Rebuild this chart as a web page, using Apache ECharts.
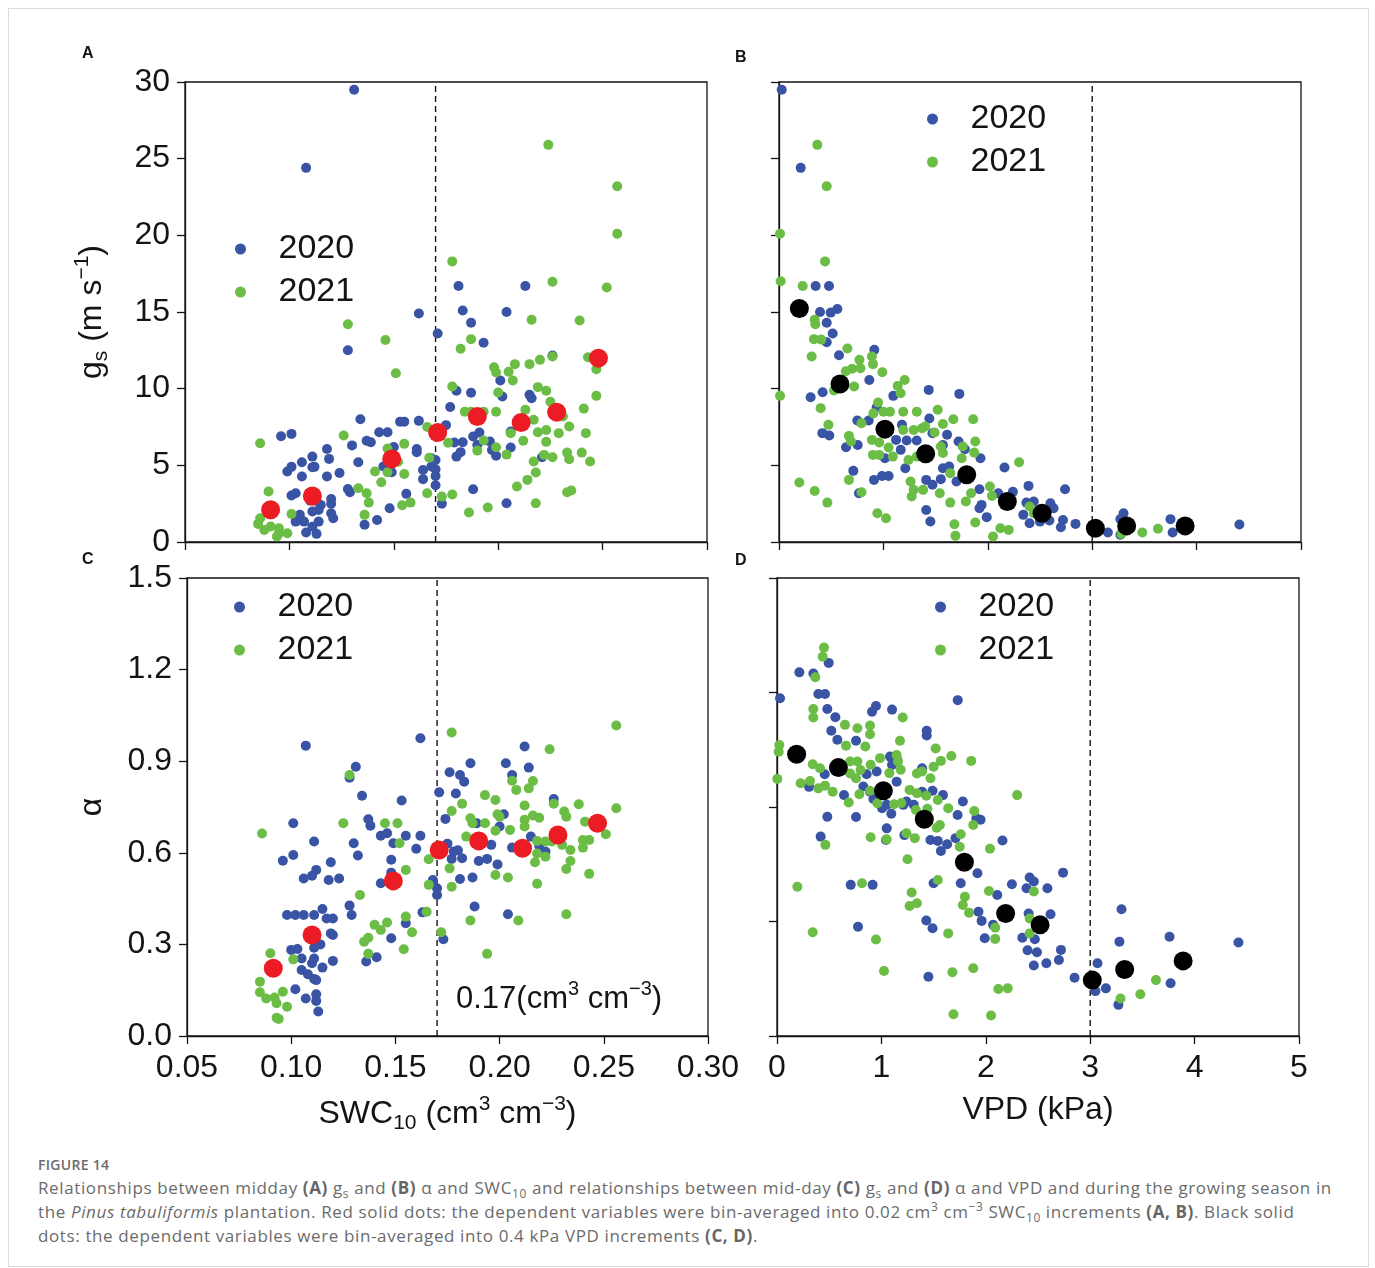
<!DOCTYPE html>
<html>
<head>
<meta charset="utf-8">
<script src="https://cdn.jsdelivr.net/npm/echarts@6/dist/echarts.min.js"></script>
<style>
html,body{margin:0;padding:0;background:#fff;}
#wrap{position:relative;width:1375px;height:1268px;overflow:hidden;}
#frame{position:absolute;left:8px;top:8px;width:1361px;height:1259px;border:1px solid #dcdcdc;box-sizing:border-box;}
#chart{position:absolute;left:0;top:0;width:1375px;height:1150px;}
#cap{position:absolute;left:38px;top:1156px;font-family:'Open Sans','Noto Sans',sans-serif;color:#6b6b6b;}
#cap .fig{font-size:14px;font-weight:600;line-height:18px;height:20px;letter-spacing:0.3px;color:#6b6b6b;}
#cap .ln{font-size:17px;line-height:24px;height:24px;white-space:nowrap;letter-spacing:0.62px;}
#cap b{font-weight:700;color:#666;}
#cap sub,#cap sup{font-size:0.7em;line-height:0;}
</style>
</head>
<body>
<div id="wrap">
<div id="frame"></div>
<div id="chart"></div>
<div id="cap">
<div class="fig">FIGURE 14</div>
<div class="ln">Relationships between midday <b>(A)</b> g<sub>s</sub> and <b>(B)</b> α and SWC<sub>10</sub> and relationships between mid-day <b>(C)</b> g<sub>s</sub> and <b>(D)</b> α and VPD and during the growing season in</div>
<div class="ln">the <i>Pinus tabuliformis</i> plantation. Red solid dots: the dependent variables were bin-averaged into 0.02 cm<sup>3</sup> cm<sup>−3</sup> SWC<sub>10</sub> increments <b>(A, B)</b>. Black solid</div>
<div class="ln">dots: the dependent variables were bin-averaged into 0.4 kPa VPD increments <b>(C, D)</b>.</div>
</div>
</div>
<script>
// ---------------- DATA ----------------
const years = ['2020', '2021'];
const swcThreshold = 0.17;
const vpdThreshold = 3;

// Panel A: gs vs SWC10
const gsSwc2020 = [[0.131,29.5],[0.108,24.4],[0.162,14.9],[0.171,13.6],[0.128,12.5],[0.134,8.0],[0.096,6.9],[0.101,7.05],[0.153,7.85],[0.155,7.85],[0.162,7.9],[0.143,7.16],[0.147,7.16],[0.130,6.3],[0.137,6.6],[0.139,6.5],[0.118,6.07],[0.119,5.42],[0.111,5.57],[0.133,5.2],[0.161,6.07],[0.161,5.86],[0.145,4.92],[0.150,6.2],[0.168,5.46],[0.170,5.35],[0.106,5.2],[0.111,4.88],[0.112,4.9],[0.101,4.9],[0.099,4.6],[0.124,4.5],[0.118,4.27],[0.164,4.7],[0.106,4.27],[0.149,4.55],[0.170,4.3],[0.128,3.46],[0.129,3.25],[0.101,3.03],[0.103,3.18],[0.156,3.14],[0.120,2.8],[0.120,2.49],[0.120,1.88],[0.121,1.55],[0.110,2.70],[0.112,2.70],[0.115,2.42],[0.114,2.09],[0.111,1.99],[0.105,1.77],[0.103,1.33],[0.107,1.33],[0.111,1.0],[0.114,1.33],[0.108,0.62],[0.113,0.53],[0.148,2.2],[0.142,1.44],[0.136,1.12],[0.181,16.7],[0.183,15.1],[0.187,14.3],[0.204,15.0],[0.213,16.7],[0.193,13.0],[0.226,12.16],[0.201,10.53],[0.180,9.86],[0.187,9.73],[0.202,9.49],[0.215,9.6],[0.216,9.38],[0.177,8.8],[0.175,7.62],[0.179,6.49],[0.183,6.51],[0.180,5.57],[0.182,5.86],[0.188,6.88],[0.191,7.14],[0.190,6.33],[0.196,6.55],[0.197,6.0],[0.199,5.62],[0.206,7.2],[0.206,6.16],[0.168,4.92],[0.170,4.75],[0.164,4.1],[0.170,3.7],[0.173,2.49],[0.188,3.44],[0.204,2.53],[0.221,5.53]];
const gsSwc2021 = [[0.128,14.2],[0.146,13.17],[0.151,11.0],[0.086,6.44],[0.126,6.94],[0.155,6.4],[0.166,7.5],[0.167,5.5],[0.147,6.1],[0.148,5.6],[0.152,5.23],[0.090,3.29],[0.141,4.6],[0.144,3.9],[0.147,4.55],[0.155,4.44],[0.133,3.5],[0.137,3.18],[0.138,2.57],[0.136,1.77],[0.166,3.18],[0.154,2.4],[0.158,2.57],[0.101,1.83],[0.086,1.55],[0.085,1.18],[0.088,0.79],[0.091,1.01],[0.095,0.90],[0.099,0.57],[0.094,0.36],[0.095,0.57],[0.224,25.9],[0.257,23.2],[0.257,20.1],[0.178,18.3],[0.226,16.97],[0.252,16.6],[0.216,14.49],[0.239,14.44],[0.187,13.23],[0.182,12.6],[0.226,12.1],[0.243,12.05],[0.247,11.27],[0.220,11.88],[0.215,11.6],[0.208,11.6],[0.198,11.4],[0.199,11.05],[0.205,11.1],[0.207,10.53],[0.247,9.53],[0.178,10.14],[0.200,9.75],[0.219,10.1],[0.223,9.86],[0.225,9.14],[0.241,8.7],[0.184,8.49],[0.187,8.5],[0.193,8.49],[0.199,8.5],[0.213,8.62],[0.217,7.97],[0.176,6.47],[0.193,6.62],[0.190,5.96],[0.199,6.18],[0.206,7.1],[0.212,6.6],[0.219,7.16],[0.223,6.53],[0.223,7.3],[0.229,7.1],[0.231,8.18],[0.234,7.53],[0.242,7.1],[0.204,5.7],[0.217,5.25],[0.222,5.68],[0.226,5.53],[0.233,5.83],[0.234,5.4],[0.240,5.83],[0.244,5.25],[0.173,2.96],[0.178,3.1],[0.186,1.92],[0.195,2.25],[0.209,3.62],[0.214,4.05],[0.218,4.53],[0.218,2.53],[0.233,3.25],[0.235,3.36]];
const gsSwcBins = [[0.091,2.1],[0.111,3.0],[0.149,5.42],[0.171,7.14],[0.190,8.18],[0.211,7.79],[0.228,8.47],[0.248,11.99]];

// Panel B: gs vs VPD
const gsVpd2020 = [[0.026,29.5],[0.208,24.4],[0.351,16.7],[0.479,16.7],[0.393,15.0],[0.495,14.96],[0.559,15.2],[0.457,14.3],[0.514,13.6],[0.457,13.03],[0.575,12.18],[0.913,12.53],[0.865,10.57],[0.303,9.44],[0.418,9.77],[0.415,7.1],[0.482,6.94],[0.642,6.18],[0.754,6.33],[0.750,7.92],[0.859,7.92],[0.936,8.79],[1.095,9.53],[1.434,9.92],[1.727,9.66],[1.440,8.05],[0.712,4.64],[0.766,3.18],[0.910,4.05],[0.987,4.31],[1.05,4.31],[1.015,5.46],[1.121,6.66],[1.166,6.01],[1.223,6.62],[1.319,6.62],[1.178,7.64],[1.21,4.81],[1.41,4.05],[1.47,3.73],[1.41,2.09],[1.45,1.34],[1.47,7.09],[1.57,6.33],[1.61,6.99],[1.57,4.81],[1.63,4.92],[1.55,4.1],[1.72,6.55],[1.78,6.05],[1.93,5.46],[1.70,3.94],[1.92,3.44],[1.94,2.42],[1.92,2.2],[1.99,1.62],[2.16,4.86],[2.10,3.18],[2.24,3.27],[2.39,3.66],[2.37,2.57],[2.34,1.77],[2.40,1.22],[2.74,3.44],[2.44,2.64],[2.60,2.53],[2.50,1.33],[2.59,1.40],[2.63,2.2],[2.72,1.44],[2.70,0.96],[2.84,1.18],[3.15,0.62],[3.30,1.88],[3.27,1.49],[3.27,0.47],[3.75,1.49],[3.77,0.62],[4.41,1.14]];
const gsVpd2021 = [[0.010,20.1],[0.367,25.9],[0.457,23.2],[0.016,17.0],[0.441,18.3],[0.227,16.7],[0.010,9.53],[0.342,14.49],[0.348,14.2],[0.335,13.23],[0.405,13.2],[0.313,12.1],[0.655,12.62],[0.64,11.14],[0.70,11.3],[0.77,11.88],[0.78,11.33],[0.89,12.1],[0.90,11.6],[0.99,11.07],[0.72,10.14],[0.527,9.88],[1.137,10.18],[1.204,10.57],[1.165,9.7],[0.949,9.1],[0.399,8.73],[0.473,7.64],[0.904,8.39],[1.00,8.5],[1.063,8.5],[1.19,8.5],[1.32,8.5],[1.52,8.62],[1.67,8.0],[1.86,8.0],[1.57,7.7],[0.67,6.92],[0.69,6.55],[0.79,7.75],[0.89,6.66],[0.96,6.49],[1.05,6.16],[0.90,5.68],[0.96,5.68],[1.09,5.57],[1.19,7.3],[1.29,7.3],[1.37,7.42],[1.40,7.53],[1.49,7.14],[1.24,5.35],[1.32,5.57],[1.55,6.23],[1.57,5.8],[1.76,6.23],[1.75,5.46],[1.88,6.55],[1.87,5.83],[1.64,4.49],[2.30,5.2],[0.67,4.05],[0.79,3.25],[1.26,3.94],[1.29,3.40],[1.38,3.40],[1.27,2.97],[1.54,3.18],[1.64,2.57],[1.79,2.64],[1.84,3.18],[1.88,1.27],[0.195,3.88],[0.342,3.33],[0.463,2.57],[0.942,1.88],[1.025,1.55],[1.68,1.16],[1.69,0.40],[2.02,3.62],[2.04,3.01],[2.12,0.90],[2.20,0.79],[2.05,0.36],[2.40,2.31],[2.44,1.88],[3.48,0.62],[3.63,0.86],[3.28,0.53]];
const gsVpdBins = [[0.195,15.23],[0.584,10.31],[1.015,7.36],[1.405,5.75],[1.798,4.38],[2.187,2.64],[2.52,1.88],[3.03,0.90],[3.33,1.05],[3.89,1.05]];

// Panel C: alpha vs SWC10
const alphaSwc2020 = [[0.107,0.951],[0.162,0.975],[0.131,0.882],[0.128,0.846],[0.134,0.787],[0.153,0.771],[0.101,0.697],[0.137,0.710],[0.138,0.689],[0.143,0.656],[0.146,0.664],[0.111,0.637],[0.130,0.631],[0.132,0.591],[0.149,0.631],[0.155,0.656],[0.162,0.656],[0.160,0.613],[0.096,0.574],[0.101,0.593],[0.119,0.569],[0.148,0.577],[0.106,0.516],[0.110,0.525],[0.112,0.544],[0.118,0.511],[0.123,0.516],[0.143,0.500],[0.148,0.535],[0.168,0.511],[0.170,0.484],[0.170,0.462],[0.128,0.427],[0.129,0.396],[0.098,0.396],[0.102,0.396],[0.106,0.396],[0.111,0.396],[0.115,0.416],[0.117,0.385],[0.120,0.385],[0.163,0.405],[0.155,0.369],[0.119,0.336],[0.120,0.331],[0.114,0.300],[0.111,0.289],[0.100,0.282],[0.103,0.285],[0.148,0.320],[0.173,0.317],[0.105,0.254],[0.111,0.254],[0.110,0.238],[0.115,0.224],[0.105,0.216],[0.108,0.202],[0.111,0.187],[0.112,0.183],[0.120,0.246],[0.136,0.244],[0.141,0.258],[0.102,0.153],[0.107,0.123],[0.112,0.137],[0.112,0.115],[0.113,0.080],[0.212,0.948],[0.186,0.893],[0.203,0.893],[0.176,0.864],[0.181,0.855],[0.183,0.833],[0.206,0.855],[0.214,0.879],[0.171,0.798],[0.179,0.794],[0.226,0.776],[0.174,0.711],[0.202,0.726],[0.200,0.686],[0.175,0.630],[0.178,0.604],[0.182,0.582],[0.180,0.608],[0.177,0.580],[0.190,0.573],[0.194,0.580],[0.199,0.562],[0.196,0.626],[0.189,0.697],[0.181,0.514],[0.187,0.519],[0.188,0.424],[0.204,0.399],[0.206,0.617],[0.215,0.653],[0.219,0.623],[0.222,0.604]];
const alphaSwc2021 = [[0.128,0.855],[0.086,0.663],[0.125,0.697],[0.145,0.697],[0.151,0.697],[0.152,0.631],[0.155,0.544],[0.166,0.579],[0.166,0.495],[0.133,0.462],[0.165,0.407],[0.155,0.391],[0.158,0.340],[0.140,0.364],[0.143,0.347],[0.146,0.372],[0.135,0.309],[0.137,0.322],[0.137,0.269],[0.154,0.284],[0.172,0.340],[0.090,0.271],[0.101,0.251],[0.085,0.178],[0.085,0.143],[0.088,0.123],[0.092,0.126],[0.093,0.107],[0.096,0.145],[0.098,0.096],[0.093,0.060],[0.094,0.056],[0.177,0.994],[0.256,1.017],[0.224,0.939],[0.206,0.836],[0.208,0.806],[0.214,0.811],[0.216,0.835],[0.193,0.789],[0.198,0.773],[0.177,0.737],[0.182,0.761],[0.212,0.755],[0.226,0.761],[0.238,0.759],[0.199,0.726],[0.200,0.718],[0.186,0.713],[0.187,0.697],[0.193,0.697],[0.216,0.722],[0.219,0.715],[0.212,0.708],[0.212,0.686],[0.231,0.735],[0.232,0.718],[0.241,0.702],[0.256,0.746],[0.198,0.672],[0.205,0.675],[0.184,0.653],[0.218,0.639],[0.222,0.637],[0.218,0.598],[0.222,0.587],[0.217,0.569],[0.225,0.637],[0.230,0.626],[0.234,0.609],[0.234,0.573],[0.232,0.547],[0.240,0.642],[0.243,0.642],[0.240,0.617],[0.251,0.661],[0.243,0.531],[0.176,0.549],[0.198,0.527],[0.204,0.519],[0.218,0.499],[0.177,0.489],[0.186,0.378],[0.209,0.378],[0.232,0.399],[0.194,0.269]];
const alphaSwcBins = [[0.0914,0.222],[0.110,0.331],[0.149,0.508],[0.171,0.609],[0.190,0.639],[0.211,0.615],[0.228,0.658],[0.247,0.697]];

// Panel D: alpha vs VPD
const alphaVpd2020 = [[0.029,1.106],[0.214,1.191],[0.348,1.187],[0.495,1.222],[0.396,1.120],[0.460,1.120],[0.482,1.071],[0.559,1.044],[0.520,1.000],[0.578,0.970],[0.757,0.967],[0.910,1.062],[0.948,1.081],[1.102,1.069],[1.434,1.000],[1.434,0.984],[1.731,1.100],[0.307,0.816],[0.457,0.857],[0.642,0.789],[0.757,0.717],[0.482,0.718],[0.418,0.653],[0.859,0.857],[0.955,0.866],[1.083,0.915],[1.153,0.904],[1.102,0.888],[0.827,0.817],[0.891,0.800],[0.923,0.776],[1.006,0.746],[1.051,0.757],[1.095,0.728],[1.146,0.833],[1.051,0.680],[1.044,0.642],[1.21,0.757],[1.24,0.768],[1.31,0.757],[1.39,0.877],[1.39,0.800],[1.49,0.803],[1.59,0.789],[1.78,0.768],[1.73,0.724],[1.91,0.713],[1.95,0.708],[1.22,0.658],[1.47,0.642],[1.54,0.639],[1.57,0.606],[1.63,0.628],[1.71,0.648],[2.16,0.640],[1.92,0.533],[1.50,0.500],[1.76,0.500],[0.706,0.495],[0.916,0.495],[2.25,0.497],[2.11,0.462],[1.93,0.407],[1.96,0.377],[1.99,0.320],[2.07,0.364],[1.43,0.378],[1.49,0.353],[0.776,0.358],[1.45,0.194],[2.42,0.519],[2.46,0.506],[2.39,0.484],[2.41,0.401],[2.35,0.322],[2.40,0.281],[2.49,0.274],[2.46,0.231],[2.59,0.484],[2.74,0.535],[2.62,0.399],[2.47,0.317],[2.72,0.282],[2.70,0.249],[2.58,0.238],[2.85,0.191],[3.07,0.238],[3.05,0.147],[3.15,0.156],[3.30,0.415],[3.28,0.309],[3.27,0.102],[3.76,0.325],[3.77,0.173],[4.42,0.306]];
const alphaVpd2021 = [[0.450,1.272],[0.438,1.242],[0.367,1.175],[0.348,1.071],[0.348,1.043],[0.651,1.019],[0.770,1.008],[0.891,1.017],[0.891,0.988],[1.204,1.043],[0.661,0.951],[0.846,0.948],[1.178,0.967],[0.022,0.953],[0.016,0.931],[0.003,0.842],[0.342,0.890],[0.412,0.877],[0.227,0.828],[0.316,0.835],[0.396,0.811],[0.460,0.820],[0.533,0.800],[0.70,0.899],[0.77,0.899],[0.70,0.860],[0.80,0.871],[0.757,0.844],[0.897,0.888],[0.987,0.910],[1.076,0.861],[1.146,0.920],[1.159,0.899],[1.185,0.872],[0.687,0.765],[0.789,0.792],[0.891,0.803],[0.961,0.762],[1.121,0.759],[1.191,0.763],[1.34,0.860],[1.39,0.866],[1.47,0.844],[1.50,0.882],[1.57,0.901],[1.67,0.917],[1.86,0.901],[1.52,0.942],[1.27,0.806],[1.34,0.795],[1.43,0.787],[1.54,0.773],[1.64,0.746],[1.89,0.737],[1.88,0.691],[1.33,0.740],[1.44,0.744],[1.53,0.682],[1.56,0.691],[1.76,0.661],[1.75,0.620],[1.24,0.664],[1.32,0.648],[0.897,0.651],[1.05,0.644],[0.463,0.626],[1.25,0.579],[2.04,0.613],[2.30,0.789],[0.195,0.489],[0.814,0.500],[1.54,0.511],[1.29,0.470],[1.27,0.426],[1.34,0.435],[1.80,0.456],[1.78,0.429],[1.84,0.404],[2.03,0.475],[2.09,0.355],[2.09,0.318],[2.42,0.385],[2.42,0.336],[1.64,0.336],[0.342,0.340],[0.948,0.316],[1.025,0.213],[1.68,0.209],[1.88,0.222],[2.12,0.154],[2.21,0.156],[1.69,0.071],[2.05,0.067],[2.46,0.473],[3.29,0.123],[3.48,0.137],[3.63,0.183]];
const alphaVpdBins = [[0.188,0.923],[0.588,0.879],[1.019,0.803],[1.411,0.710],[1.795,0.569],[2.190,0.401],[2.52,0.364],[3.02,0.183],[3.33,0.218],[3.89,0.246]];

// ---------------- STYLE ----------------
const FONT = '"Liberation Sans", Arial, Helvetica, sans-serif';
const INK = '#141414';
const BLUE = '#3A54A5';
const GREEN = '#6BBD45';
const RED = '#EC1C24';
const BLACK = '#000000';

const chart = echarts.init(document.getElementById('chart'), null, {renderer: 'canvas'});

const gridBase = {show: true, borderColor: INK, borderWidth: 1.3, backgroundColor: 'transparent', containLabel: false};
const grids = [
  Object.assign({left: 185, top: 82, width: 522, height: 460}, gridBase),
  Object.assign({left: 779, top: 82, width: 522, height: 460}, gridBase),
  Object.assign({left: 187, top: 578, width: 521, height: 458}, gridBase),
  Object.assign({left: 777, top: 578, width: 522, height: 458}, gridBase)
];

const richTitle = {
  a: {fontSize: 32, lineHeight: 40, fontFamily: FONT, color: INK},
  s: {fontSize: 21, lineHeight: 20, fontFamily: FONT, color: INK, verticalAlign: 'bottom'},
  p: {fontSize: 21, lineHeight: 20, fontFamily: FONT, color: INK, verticalAlign: 'top'}
};

function axis(extra, showLabel, fmt) {
  return Object.assign({
    type: 'value',
    axisLine: {show: true, onZero: false, lineStyle: {color: INK, width: 1.3}},
    axisTick: {show: true, length: 8, inside: false, lineStyle: {color: INK, width: 1.3}},
    splitLine: {show: false},
    axisLabel: {show: showLabel, fontFamily: FONT, fontSize: 32, color: INK, margin: 16, formatter: fmt},
    nameTextStyle: {fontFamily: FONT, fontSize: 32, color: INK, rich: richTitle}
  }, extra);
}

const xAxes = [
  axis({gridIndex: 0, min: 0.05, max: 0.30, interval: 0.05}, false, v => v.toFixed(2)),
  axis({gridIndex: 1, min: 0, max: 5, interval: 1}, false, v => String(v)),
  axis({gridIndex: 2, min: 0.05, max: 0.30, interval: 0.05,
        name: '{a|SWC}{s|10}{a| (cm}{p|3}{a| cm}{p|−3}{a|)}', nameLocation: 'middle', nameGap: 58}, true, v => v.toFixed(2)),
  axis({gridIndex: 3, min: 0, max: 5, interval: 1,
        name: '{a|VPD (kPa)}', nameLocation: 'middle', nameGap: 54}, true, v => String(Math.round(v)))
];
const yAxes = [
  axis({gridIndex: 0, min: 0, max: 30, interval: 5,
        name: '{a|g}{s|s}{a| (m s}{p|−1}{a|)}', nameLocation: 'middle', nameRotate: 90, nameGap: 73}, true, v => String(v)),
  axis({gridIndex: 1, min: 0, max: 30, interval: 5}, false, v => String(v)),
  axis({gridIndex: 2, min: 0, max: 1.5, interval: 0.3,
        name: '{a|α}', nameLocation: 'middle', nameRotate: 90, nameGap: 75}, true, v => v.toFixed(1)),
  axis({gridIndex: 3, min: 0, max: 1.5, interval: 0.375}, false, v => String(v))
];
yAxes.forEach(a => { a.axisLabel.margin = 15; });

function panelSeries(i, blue, green, bins, binColor, cut, ymax) {
  return [
    {type: 'line', name: 'threshold' + i, xAxisIndex: i, yAxisIndex: i,
     data: [[cut, 0], [cut, ymax]], symbol: 'none', silent: true, z: 1,
     lineStyle: {type: [6, 4], color: INK, width: 1.4}},
    {type: 'scatter', name: years[0], xAxisIndex: i, yAxisIndex: i, data: blue,
     symbolSize: 10, itemStyle: {color: BLUE, opacity: 1}, z: 2},
    {type: 'scatter', name: years[1], xAxisIndex: i, yAxisIndex: i, data: green,
     symbolSize: 10, itemStyle: {color: GREEN, opacity: 1}, z: 3},
    {type: 'scatter', name: 'bins' + i, xAxisIndex: i, yAxisIndex: i, data: bins,
     symbolSize: 19, itemStyle: {color: binColor, opacity: 1}, z: 4}
  ];
}

const series = [].concat(
  panelSeries(0, gsSwc2020, gsSwc2021, gsSwcBins, RED, swcThreshold, 30),
  panelSeries(1, gsVpd2020, gsVpd2021, gsVpdBins, BLACK, vpdThreshold, 30),
  panelSeries(2, alphaSwc2020, alphaSwc2021, alphaSwcBins, RED, swcThreshold, 1.5),
  panelSeries(3, alphaVpd2020, alphaVpd2021, alphaVpdBins, BLACK, vpdThreshold, 1.5)
);

function legendAt(left, top) {
  return {
    data: years, orient: 'vertical', left: left, top: top, padding: 0,
    icon: 'circle', itemWidth: 66, itemHeight: 11, itemGap: 9, selectedMode: false,
    textStyle: {fontFamily: FONT, fontSize: 34, color: INK, lineHeight: 34, padding: [0, 0, 0, 0]}
  };
}

const letterStyle = {fontFamily: FONT, fontSize: 16, fontWeight: 'bold', fill: INK, textAlign: 'center', textVerticalAlign: 'middle'};

const option = {
  animation: false,
  backgroundColor: 'transparent',
  grid: grids,
  xAxis: xAxes,
  yAxis: yAxes,
  legend: [legendAt(235, 232), legendAt(927, 102), legendAt(234, 590), legendAt(935, 590)],
  series: series,
  graphic: [
    {type: 'text', left: 82, top: 46, style: Object.assign({text: 'A'}, letterStyle)},
    {type: 'text', left: 735, top: 50, style: Object.assign({text: 'B'}, letterStyle)},
    {type: 'text', left: 82, top: 552, style: Object.assign({text: 'C'}, letterStyle)},
    {type: 'text', left: 735, top: 553, style: Object.assign({text: 'D'}, letterStyle)},
    {type: 'text', left: 456, top: 979, z: 10, style: {
      text: '{a|0.17(cm}{p|3}{a| cm}{p|−3}{a|)}',
      rich: {
        a: {fontSize: 31, lineHeight: 40, fontFamily: FONT, fill: INK},
        p: {fontSize: 20, lineHeight: 20, fontFamily: FONT, fill: INK, verticalAlign: 'top'}
      }
    }}
  ]
};
chart.setOption(option);
</script>
</body>
</html>
